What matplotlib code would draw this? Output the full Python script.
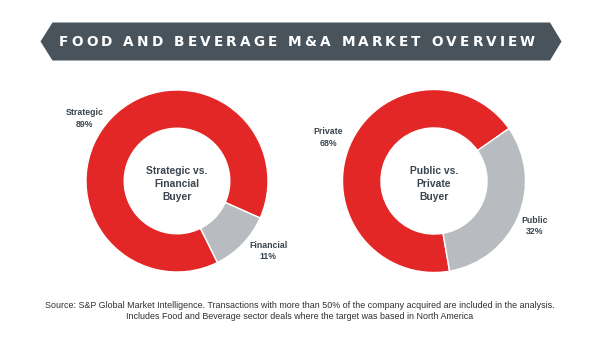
import matplotlib.pyplot as plt
from matplotlib.patches import Polygon
from matplotlib import font_manager

# data
left_labels = ['Strategic', 'Financial']
left_values = [89, 11]
right_labels = ['Private', 'Public']
right_values = [68, 32]
left_title = 'Strategic vs.\nFinancial\nBuyer'
right_title = 'Public vs.\nPrivate\nBuyer'
title = 'FOOD AND BEVERAGE M&A MARKET OVERVIEW'
source = ('Source: S&P Global Market Intelligence. Transactions with more than 50% of the company acquired are included in the analysis.\n'
          'Includes Food and Beverage sector deals where the target was based in North America')

RED = '#E32726'
GREY = '#B8BCC0'
DARK = '#48535C'
TXT = '#3A444E'

names = {f.name for f in font_manager.fontManager.ttflist}
narrow = 'Liberation Sans Narrow' if 'Liberation Sans Narrow' in names else 'Liberation Sans'

plt.rcParams['font.family'] = ['Liberation Sans', 'DejaVu Sans']

W, H = 600, 340
fig = plt.figure(figsize=(6, 3.4), dpi=100, facecolor='white')

# overlay axes in pixel coords
bg = fig.add_axes([0, 0, 1, 1])
bg.set_xlim(0, W)
bg.set_ylim(H, 0)
bg.axis('off')

# title banner
banner = Polygon([(40.5, 41.5), (52.5, 22.5), (550, 22.5), (561.5, 41.5), (550, 60.5), (52.5, 60.5)],
                 closed=True, facecolor=DARK, edgecolor='none')
bg.add_patch(banner)

# letter-spaced title, placed char by char to span x 59..535
renderer = fig.canvas.get_renderer()
chars = []
widths = []
for ch in title:
    t = bg.text(0, 46, ch if ch != ' ' else 'I', fontsize=9.8, fontweight='bold',
                color='white', va='baseline', ha='left', family='DejaVu Sans')
    bb = t.get_window_extent(renderer)
    widths.append(bb.width)
    if ch == ' ':
        t.set_text('')
    chars.append(t)
x0, x1 = 59, 535
spacing = (x1 - x0 - sum(widths)) / (len(title) - 1)
x = x0
for t, w in zip(chars, widths):
    t.set_x(x)
    x += w + spacing


def donut(cx, cy, r, values, start, center_text):
    ax = fig.add_axes([(cx - r) / W, (H - cy - r) / H, 2 * r / W, 2 * r / H])
    ax.pie(values, colors=[RED, GREY], startangle=start, counterclock=True,
           wedgeprops=dict(width=0.42, edgecolor='white', linewidth=1))
    ax.set_xlim(-1, 1)
    ax.set_ylim(-1, 1)
    ax.set_aspect('equal')
    ax.axis('off')
    ax.text(0, -0.03, center_text, ha='center', va='center', fontsize=7.4,
            fontweight='bold', color=TXT, linespacing=1.38, family=narrow)


donut(177, 181, 91, left_values, -24, left_title)
donut(434, 181, 91.5, right_values, 35, right_title)

# slice labels
lab = dict(ha='center', va='center', fontsize=6.3, color=TXT, linespacing=1.3,
           family=narrow, fontweight='bold')
bg.text(85, 118.5, f'{left_labels[0]}\n{left_values[0]}%', **lab)
bg.text(268, 251, f'{left_labels[1]}\n{left_values[1]}%', **lab)
bg.text(328, 137.5, f'{right_labels[0]}\n{right_values[0]}%', **lab)
bg.text(535, 226, f'{right_labels[1]}\n{right_values[1]}%', **lab)

bg.text(W / 2, 311, source, ha='center', va='center', fontsize=6.4,
        color='#2E2E2E', linespacing=1.24)

fig.savefig('out.png', dpi=100, facecolor='white')
